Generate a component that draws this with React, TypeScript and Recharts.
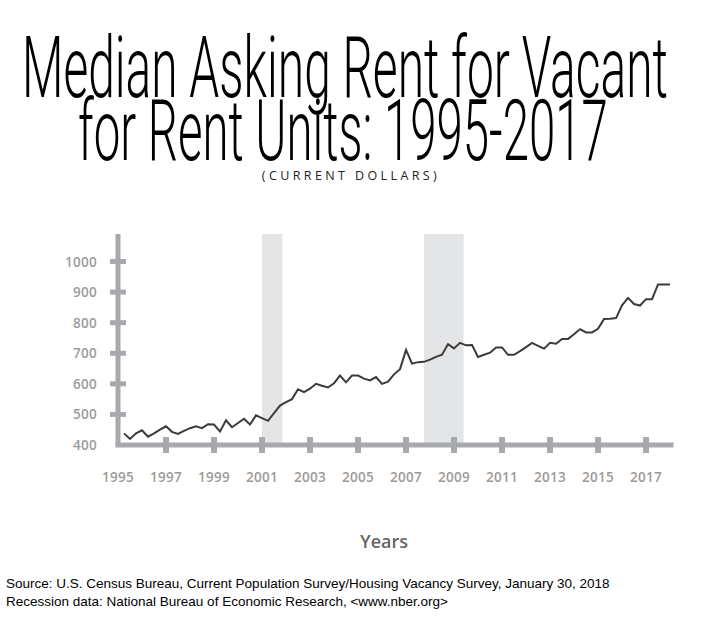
import React, { useLayoutEffect, useRef, useState } from "react";
import { LineChart, Line, XAxis, YAxis, ReferenceArea } from "recharts";

// median asking rent, quarterly, 1995 Q1 .. 2017 Q4 (current dollars)
const rent = [
  438, 420, 438, 448, 427, 438, 450, 461,
  443, 436, 446, 455, 461, 455, 468, 467,
  444, 481, 458, 472, 486, 467, 497, 488,
  479, 504, 529, 540, 550, 582, 573, 584,
  600, 594, 588, 602, 627, 605, 627, 627,
  617, 611, 622, 600, 607, 631, 648, 711,
  666, 671, 672, 679, 688, 695, 730, 716,
  734, 726, 727, 688, 695, 702, 719, 719,
  695, 695, 707, 720, 734, 724, 715, 734,
  731, 747, 747, 762, 779, 768, 768, 780,
  812, 813, 815, 857, 881, 861, 856, 877,
  877, 925, 925, 925,
];
const startYear = 1995;
const yearTicks = [1995, 1997, 1999, 2001, 2003, 2005, 2007, 2009, 2011, 2013, 2015, 2017];
const rentTicks = [400, 500, 600, 700, 800, 900, 1000];
// NBER recessions (approx. as drawn)
const recessions = [
  { from: 2001.0, to: 2001.85 },
  { from: 2007.75, to: 2009.4 },
];

const data = rent.map((v, i) => ({
  quarter: `${startYear + Math.floor(i / 4)} Q${(i % 4) + 1}`,
  t: startYear + (i + 1) / 4,
  rent: v,
}));

const AXIS = "#a7a9ac";
const LABEL = "#9b9b9b";

// condensed title: squeeze the text horizontally to the width it has in the original
function FitText({ x, y, width, children }: any) {
  const ref = useRef<SVGTextElement>(null);
  const [k, setK] = useState(1);
  useLayoutEffect(() => {
    if (ref.current) setK(width / ref.current.getComputedTextLength());
  }, [width]);
  return (
    <text ref={ref} x={0} y={0} transform={`translate(${x},${y}) scale(${k},1)`}
      fontFamily="Roboto, sans-serif" fontWeight={300} fontSize={86} fill="#000">
      {children}
    </text>
  );
}

function YTick({ x, y, payload }: any) {
  return (
    <g>
      {payload.value !== 400 && (
        <line x1={x - 8} x2={x + 8} y1={y} y2={y} stroke={AXIS} strokeWidth={5} />
      )}
      <text x={x - 21} y={y} dy={5} textAnchor="end" fill={LABEL} fontSize={13.5}
        fontWeight={600} fontFamily="Open Sans" letterSpacing={0.3}>{payload.value}</text>
    </g>
  );
}

function XTick({ x, y, payload }: any) {
  return (
    <g>
      {payload.value !== 1995 && (
        <line x1={x} x2={x} y1={y - 8} y2={y + 8} stroke={AXIS} strokeWidth={6} />
      )}
      <text x={x} y={y + 37} textAnchor="middle" fill={LABEL} fontSize={13.5}
        fontWeight={600} fontFamily="Open Sans" letterSpacing={0.3}>{payload.value}</text>
    </g>
  );
}

export default function App() {
  return (
    <div style={{ position: "absolute", left: 0, top: 0, width: 702, height: 624, background: "#fff" }}>
      <svg width={702} height={190} style={{ position: "absolute", left: 0, top: 0 }}>
        <FitText x={22} y={97} width={646}>Median Asking Rent for Vacant</FitText>
        <FitText x={78} y={160} width={530}>for Rent Units: 1995-2017</FitText>
        <text x={351} y={180} textAnchor="middle" fontFamily="Open Sans" fontSize={12.5}
          letterSpacing={3.4} fill="#222">(CURRENT DOLLARS)</text>
      </svg>
      <div style={{ position: "absolute", left: 0, top: 0 }}>
        <LineChart width={702} height={624} data={data}
          margin={{ top: 234, right: 31, bottom: 0, left: 0 }}>
          {recessions.map((r, i) => (
            <ReferenceArea key={i} x1={r.from} x2={r.to} y1={400} y2={1090}
              fill="#e3e5e7" fillOpacity={1} stroke="none" ifOverflow="hidden" />
          ))}
          <XAxis type="number" dataKey="t" domain={[1995, 2018.04]} ticks={yearTicks}
            height={179} tickSize={0} tickMargin={0} tickLine={false} interval={0}
            axisLine={{ stroke: AXIS, strokeWidth: 5, strokeLinecap: "square" }} tick={<XTick />}
            allowDataOverflow />
          <YAxis type="number" domain={[400, 1090]} ticks={rentTicks} width={118}
            tickSize={0} tickMargin={0} tickLine={false} interval={0}
            axisLine={{ stroke: AXIS, strokeWidth: 5 }} tick={<YTick />} allowDataOverflow />
          <Line type="linear" dataKey="rent" stroke="#3b3b3b" strokeWidth={2} dot={false}
            isAnimationActive={false} />
        </LineChart>
      </div>
      <div style={{ position: "absolute", left: 0, width: 768, top: 529, textAlign: "center",
        fontFamily: "Open Sans", fontWeight: 600, fontSize: 18, color: "#666" }}>Years</div>
      <div style={{ position: "absolute", left: 6, top: 575, fontFamily: "Liberation Sans, Arial, sans-serif",
        fontSize: 13.5, lineHeight: "18px", color: "#000" }}>
        <div>Source: U.S. Census Bureau, Current Population Survey/Housing Vacancy Survey, January 30, 2018</div>
        <div>Recession data: National Bureau of Economic Research, &lt;www.nber.org&gt;</div>
      </div>
    </div>
  );
}
